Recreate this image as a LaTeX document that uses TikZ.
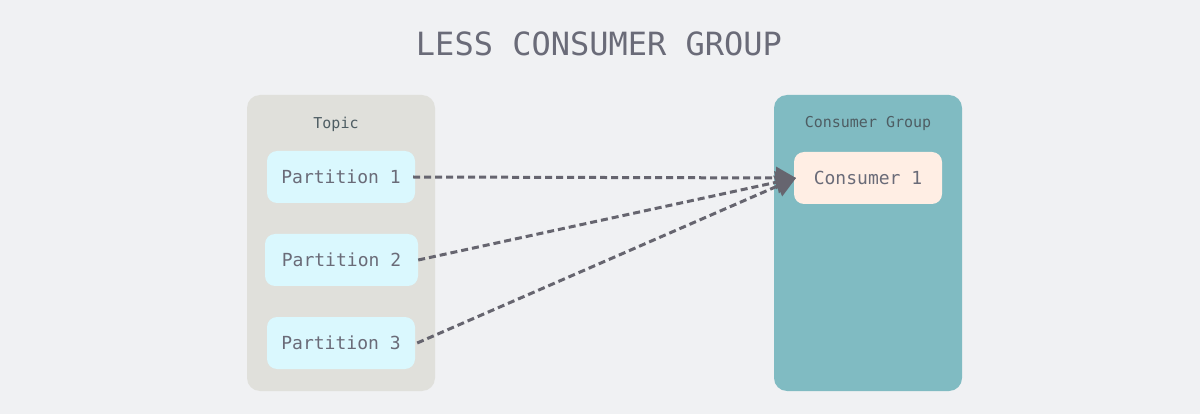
\documentclass[tikz,border=0pt]{standalone}
\usepackage{fontspec}
\setmonofont{DejaVu Sans Mono}
\usetikzlibrary{arrows.meta}
\definecolor{bg}{HTML}{F0F1F3}
\definecolor{topicbg}{HTML}{E0E0DB}
\definecolor{groupbg}{HTML}{80BBC2}
\definecolor{partbg}{HTML}{DAF8FE}
\definecolor{consbg}{HTML}{FFEEE4}
\definecolor{txt}{HTML}{6A6B78}
\definecolor{lbl}{HTML}{4E5D63}
\definecolor{arr}{HTML}{66656F}
\tikzset{
  container/.style={rounded corners=13pt, inner sep=0pt, draw=none},
  item/.style={rounded corners=10pt, inner sep=0pt, draw=none, font=\ttfamily\fontsize{18}{20}\selectfont, text=txt},
  small/.style={font=\ttfamily\fontsize{15}{17}\selectfont, text=lbl, inner sep=0pt},
  link/.style={draw=arr, line width=3pt, dash pattern=on 7pt off 4pt, -{Triangle[length=20pt,width=22pt]}}
}
\begin{document}
\begin{tikzpicture}[x=1pt,y=-1pt]
\useasboundingbox (0,0) rectangle (1200,414);
\fill[bg] (0,0) rectangle (1200,414);
\node[font=\ttfamily\fontsize{32}{36}\selectfont, text=txt, inner sep=0pt] (title) at (599,44) {LESS CONSUMER GROUP};
\node[container, fill=topicbg, minimum width=188pt, minimum height=296pt] (topic) at (341,243) {};
\node[container, fill=groupbg, minimum width=188pt, minimum height=296pt] (group) at (868,243) {};
\node[small] (topiclbl) at (336,124) {Topic};
\node[small] (grouplbl) at (868,123) {Consumer Group};
\node[item, fill=partbg, minimum width=148pt, minimum height=52pt] (p1) at (341,177) {Partition 1};
\node[item, fill=partbg, minimum width=153pt, minimum height=52pt] (p2) at (341.5,260) {Partition 2};
\node[item, fill=partbg, minimum width=148pt, minimum height=52pt] (p3) at (341,343) {Partition 3};
\node[item, fill=consbg, minimum width=148pt, minimum height=52pt] (c1) at (868,178) {Consumer 1};
\coordinate (tip) at (796,178);
\draw[link] ([xshift=-2pt]p1.east) -- (tip);
\draw[link] (p2.east) -- (tip);
\draw[link] ([xshift=2pt]p3.east) -- (tip);
\end{tikzpicture}
\end{document}
